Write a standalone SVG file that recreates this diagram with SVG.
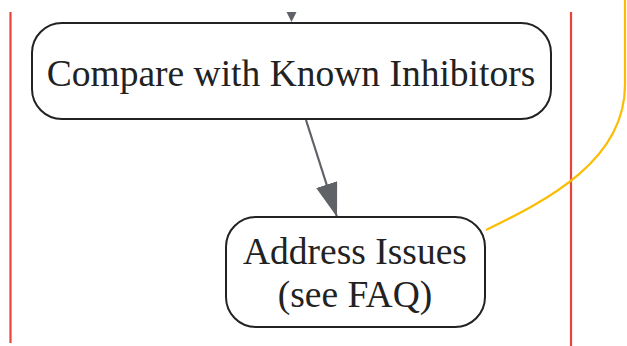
<svg xmlns="http://www.w3.org/2000/svg" width="627" height="346" viewBox="0 0 627 346">
<defs>
<style>
.node rect{fill:#ffffff;stroke:#222222;stroke-width:2}
.node text{font-family:"Liberation Serif","Times New Roman",serif;font-size:37.5px;fill:#222222;text-anchor:middle}
.lane{stroke:#ea4335;stroke-width:2.2;fill:none}
.edge{stroke:#5f6368;stroke-width:2.2;fill:none}
</style>
<marker id="arrBig" viewBox="0 0 10 10" refX="10" refY="5" markerWidth="34" markerHeight="22" markerUnits="userSpaceOnUse" orient="auto" preserveAspectRatio="none">
<path d="M0,0 L10,5 L0,10 z" fill="#5f6368"/>
</marker>
</defs>
<g id="lanes">
<line class="lane" x1="10.5" y1="12" x2="10.5" y2="343"/>
<line class="lane" x1="571" y1="12" x2="571" y2="346"/>
</g>
<g id="connectors">
<path d="M286.5,12 L296.5,12 L291.5,22 z" fill="#5f6368"/>
<path class="edge" d="M306,120 L337,217" marker-end="url(#arrBig)"/>
<path d="M486,230 C548,200 625,160 625,85 L625,0" fill="none" stroke="#fbbc04" stroke-width="2.2"/>
</g>
<g id="compare" class="node">
<rect x="32" y="23" width="519" height="96" rx="30" ry="30"/>
<text x="291" y="86">Compare with Known Inhibitors</text>
</g>
<g id="address" class="node">
<rect x="226" y="217" width="259" height="110" rx="30" ry="30"/>
<text x="355" y="264">Address Issues</text>
<text x="355" y="307">(see FAQ)</text>
</g>
</svg>
